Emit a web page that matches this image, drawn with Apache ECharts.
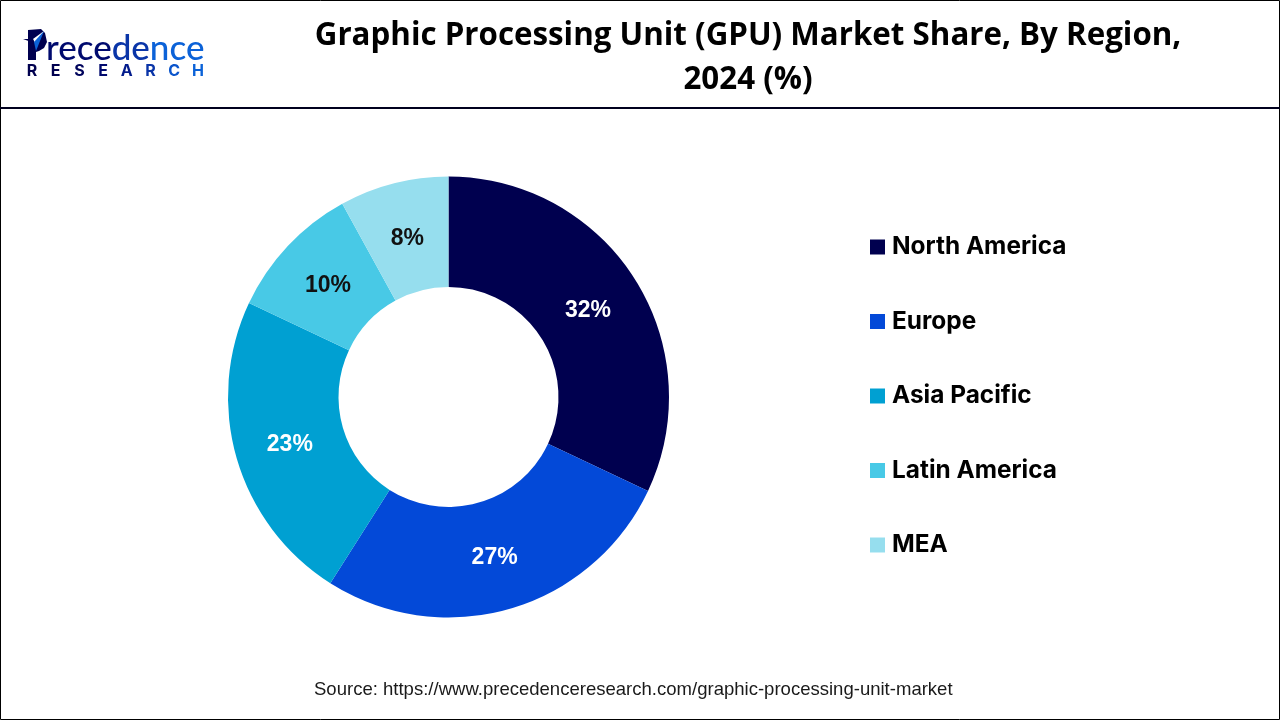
<!DOCTYPE html>
<html>
<head>
<meta charset="utf-8">
<style>
html, body { margin: 0; padding: 0; background: #fff; }
#chart { width: 1280px; height: 720px; }
</style>
<script src="https://cdn.jsdelivr.net/npm/echarts@6/dist/echarts.min.js"></script>
</head>
<body>
<div id="chart"></div>
<script>
var regions = ['North America', 'Europe', 'Asia Pacific', 'Latin America', 'MEA'];
var shares = [32, 27, 23, 10, 8];
var colors = ['#00004f', '#0349d8', '#00a0d2', '#48c9e6', '#96deee'];
var labelColors = ['#ffffff', '#ffffff', '#ffffff', '#111111', '#111111'];
var titleText = 'Graphic Processing Unit (GPU) Market Share, By Region,\n2024 (%)';
var sourceText = 'Source: https://www.precedenceresearch.com/graphic-processing-unit-market';
var logoLetters = ['R', 'E', 'S', 'E', 'A', 'R', 'C', 'H'];
var logoLetterColors = ['#00004f', '#00004f', '#00045c', '#000a6e', '#031c8c', '#0a35a8', '#0b55cc', '#0b62d8'];

var chart = echarts.init(document.getElementById('chart'));

// middle angle of each slice, needed to pull the labels back onto the ring middle
function sliceMidAngle(index) {
    var total = shares.reduce(function (a, b) { return a + b; }, 0);
    var before = shares.slice(0, index).reduce(function (a, b) { return a + b; }, 0);
    return (before + shares[index] / 2) / total * Math.PI * 2;
}

var logoGraphics = [
    { type: 'polygon', shape: { points: [[28, 30], [41, 29], [45, 33], [47, 42], [44, 48], [39, 51], [36, 52], [36, 60], [28, 60]] }, style: { fill: '#00004f' } },
    { type: 'polygon', shape: { points: [[44, 31], [33, 39], [36, 45]] }, style: { fill: '#ffffff' } },
    { type: 'polygon', shape: { points: [[44, 31], [36, 51], [34, 42]] }, style: { fill: '#0b62d8' } },
    { type: 'polygon', shape: { points: [[23, 39], [33, 39], [34, 43]] }, style: { fill: '#00004f' } },
    {
        type: 'text',
        x: 46,
        y: 31,
        style: {
            text: '{a|rece}{b|de}{c|nce}',
            rich: {
                a: { fontFamily: 'Lato', fontSize: 35, fontWeight: 500, fill: '#000a6e' },
                b: { fontFamily: 'Lato', fontSize: 35, fontWeight: 500, fill: '#0a35a8' },
                c: { fontFamily: 'Lato', fontSize: 35, fontWeight: 500, fill: '#0b62d8' }
            }
        }
    }
].concat(logoLetters.map(function (letter, i) {
    return {
        type: 'text',
        x: 32 + i * 23.7,
        y: 63,
        style: {
            text: letter,
            fontFamily: 'Inter',
            fontWeight: 'bold',
            fontSize: 16,
            fill: logoLetterColors[i],
            align: 'center'
        }
    };
}));

chart.setOption({
    animation: false,
    backgroundColor: '#ffffff',
    color: colors,
    title: {
        text: titleText,
        left: 743,
        top: 9,
        textAlign: 'center',
        textStyle: {
            fontFamily: 'Open Sans',
            fontWeight: 'bold',
            fontSize: 31.3,
            lineHeight: 44,
            color: '#000000'
        }
    },
    legend: {
        orient: 'vertical',
        left: 865,
        top: 226,
        itemWidth: 15,
        itemHeight: 15,
        itemGap: 42.5,
        icon: 'rect',
        selectedMode: false,
        data: regions,
        textStyle: {
            fontFamily: 'Inter',
            fontWeight: 'bold',
            fontSize: 24.4,
            lineHeight: 31,
            color: '#000000',
            padding: [0, 0, 1, 2]
        }
    },
    series: [{
        type: 'pie',
        center: [448.5, 397],
        radius: [110, 220.5],
        startAngle: 90,
        clockwise: true,
        silent: true,
        label: {
            position: 'inside',
            formatter: '{c}%',
            fontFamily: 'Liberation Sans',
            fontWeight: 'bold',
            fontSize: 23
        },
        labelLine: { show: false },
        labelLayout: function (params) {
            var angle = sliceMidAngle(params.dataIndex);
            return { dx: -3 * Math.sin(angle), dy: 3 * Math.cos(angle) + 2 };
        },
        data: regions.map(function (name, i) {
            return {
                name: name,
                value: shares[i],
                label: { color: labelColors[i] }
            };
        })
    }],
    graphic: [
        // page frame and header rule
        { type: 'rect', shape: { x: 0.5, y: 0.5, width: 1279, height: 719 }, style: { fill: 'none', stroke: '#000000', lineWidth: 1 } },
        { type: 'rect', shape: { x: 0, y: 107, width: 1280, height: 2 }, style: { fill: '#00001e' } },
        // source line
        { type: 'text', x: 314, y: 680, style: { text: sourceText, fontFamily: 'Liberation Sans', fontSize: 18.55, fill: '#1a1a1a' } }
    ].concat(logoGraphics)
});
</script>
</body>
</html>
